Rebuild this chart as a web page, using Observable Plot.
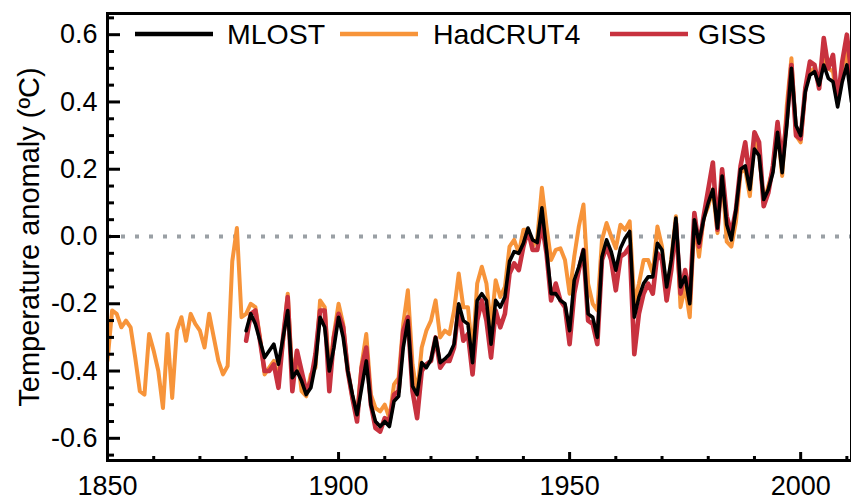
<!DOCTYPE html>
<html><head><meta charset="utf-8">
<script src="https://cdn.jsdelivr.net/npm/d3@7"></script>
<script src="https://cdn.jsdelivr.net/npm/@observablehq/plot@0.6"></script>
<style>
body{margin:0;background:#fff;}
#wrap{position:relative;width:851px;height:502px;overflow:hidden;font-family:"Liberation Sans",Arial,sans-serif;}
#wrap svg{display:block;}
#legend{position:absolute;left:0;top:0;pointer-events:none;}
</style></head><body><div id="wrap"></div>
<script>
// ---- data (annual global temperature anomaly, °C) ----
const hadStart = 1850;
const hadcrut4 = [
-0.37,-0.22,-0.23,-0.27,-0.25,-0.27,-0.36,-0.46,-0.47,-0.29,
-0.34,-0.40,-0.51,-0.29,-0.48,-0.28,-0.24,-0.31,-0.23,-0.26,
-0.28,-0.33,-0.23,-0.30,-0.37,-0.41,-0.385,-0.074,0.025,-0.24,
-0.23,-0.20,-0.21,-0.30,-0.41,-0.39,-0.37,-0.42,-0.31,-0.17,
-0.42,-0.34,-0.46,-0.475,-0.41,-0.39,-0.19,-0.21,-0.40,-0.29,
-0.20,-0.26,-0.40,-0.48,-0.53,-0.38,-0.29,-0.47,-0.51,-0.52,
-0.50,-0.54,-0.44,-0.42,-0.26,-0.16,-0.38,-0.47,-0.33,-0.28,
-0.25,-0.19,-0.30,-0.28,-0.29,-0.22,-0.11,-0.21,-0.21,-0.35,
-0.14,-0.09,-0.14,-0.27,-0.13,-0.18,-0.15,-0.03,-0.01,-0.05,
0.02,0.02,-0.03,-0.005,0.145,0.03,-0.07,-0.04,-0.035,-0.07,
-0.17,-0.06,0.03,0.095,-0.14,-0.20,-0.22,-0.01,0.04,0.0,
-0.035,0.035,0.02,0.045,-0.20,-0.14,-0.07,-0.07,-0.11,0.03,
-0.03,-0.19,-0.065,0.06,-0.21,-0.15,-0.24,0.045,-0.06,0.055,
0.09,0.14,0.01,0.19,-0.015,-0.03,0.045,0.19,0.20,0.12,
0.29,0.25,0.10,0.15,0.20,0.32,0.18,0.39,0.53,0.30,
0.28,0.44,0.49,0.50,0.45,0.54,0.50,0.49,0.40,0.50,
0.55,0.42,0.47
];
const mlostStart = 1880;
const mlost = [
-0.28,-0.23,-0.26,-0.31,-0.36,-0.34,-0.32,-0.38,-0.30,-0.22,
-0.42,-0.40,-0.43,-0.47,-0.45,-0.38,-0.24,-0.27,-0.40,-0.33,
-0.24,-0.30,-0.40,-0.47,-0.53,-0.45,-0.37,-0.50,-0.55,-0.565,
-0.55,-0.565,-0.49,-0.475,-0.33,-0.25,-0.445,-0.47,-0.375,-0.39,
-0.366,-0.30,-0.375,-0.364,-0.35,-0.32,-0.20,-0.25,-0.26,-0.375,
-0.19,-0.17,-0.19,-0.32,-0.19,-0.21,-0.18,-0.074,-0.045,-0.05,
-0.02,0.025,-0.01,-0.018,0.085,-0.04,-0.17,-0.17,-0.19,-0.20,
-0.28,-0.13,-0.09,-0.04,-0.23,-0.24,-0.30,-0.06,-0.01,-0.045,
-0.10,-0.035,-0.005,0.015,-0.24,-0.18,-0.14,-0.12,-0.12,-0.02,
-0.04,-0.15,-0.07,0.055,-0.15,-0.12,-0.20,0.05,-0.02,0.05,
0.10,0.14,0.025,0.18,0.035,-0.01,0.08,0.20,0.21,0.14,
0.26,0.24,0.11,0.14,0.19,0.31,0.19,0.33,0.50,0.33,
0.30,0.43,0.48,0.49,0.45,0.51,0.47,0.46,0.385,0.46,
0.51,0.40,0.43
];
const gissStart = 1880;
const giss = [
-0.31,-0.23,-0.22,-0.31,-0.40,-0.40,-0.38,-0.45,-0.30,-0.18,
-0.46,-0.34,-0.40,-0.46,-0.43,-0.35,-0.22,-0.22,-0.46,-0.30,
-0.23,-0.27,-0.40,-0.48,-0.55,-0.39,-0.33,-0.50,-0.57,-0.58,
-0.54,-0.55,-0.47,-0.46,-0.28,-0.24,-0.46,-0.54,-0.40,-0.38,
-0.37,-0.30,-0.39,-0.37,-0.37,-0.33,-0.21,-0.31,-0.29,-0.41,
-0.25,-0.19,-0.25,-0.36,-0.22,-0.27,-0.23,-0.11,-0.08,-0.10,
-0.03,0.02,-0.04,-0.04,0.04,-0.05,-0.19,-0.14,-0.19,-0.21,
-0.32,-0.17,-0.10,-0.04,-0.25,-0.26,-0.32,-0.07,-0.03,-0.07,
-0.16,-0.06,-0.05,-0.03,-0.35,-0.23,-0.17,-0.14,-0.17,-0.05,
-0.07,-0.19,-0.10,0.04,-0.17,-0.10,-0.19,0.07,-0.03,0.06,
0.14,0.22,0.02,0.20,0.06,0.01,0.08,0.21,0.28,0.17,
0.31,0.28,0.09,0.13,0.21,0.34,0.22,0.35,0.51,0.30,
0.29,0.44,0.52,0.51,0.44,0.59,0.50,0.54,0.40,0.52,
0.60,0.48,0.52
];
const seriesNames = ["MLOST", "HadCRUT4", "GISS"];
const seriesColors = ["#000000", "#f7943a", "#c8323f"];
const xMajorTicks = [1850, 1900, 1950, 2000];
const xMinorTicks = [1860, 1870, 1880, 1890, 1910, 1920, 1930, 1940, 1960, 1970, 1980, 1990, 2010];
const yMajorTicks = [-0.6, -0.4, -0.2, 0.0, 0.2, 0.4, 0.6];
const yMinorTicks = [-0.65,-0.55,-0.5,-0.45,-0.35,-0.3,-0.25,-0.15,-0.1,-0.05,0.05,0.1,0.15,0.25,0.3,0.35,0.45,0.5,0.55,0.65];
const yTitle = "Temperature anomaly (ºC)";

// ---- build tables ----
const toRows = (arr, start, name) => arr.map((v, i) => ({year: start + i, value: v, series: name}));
const hadRows = toRows(hadcrut4, hadStart, "HadCRUT4");
const mlostRows = toRows(mlost, mlostStart, "MLOST");
const gissRows = toRows(giss, gissStart, "GISS");
const color = Object.fromEntries(seriesNames.map((n, i) => [n, seriesColors[i]]));

const chart = Plot.plot({
  width: 851, height: 502,
  marginLeft: 107, marginTop: 13, marginBottom: 42, marginRight: 0,
  style: {fontFamily: '"Liberation Sans", Arial, sans-serif', fontSize: "27px", color: "#000", background: "#fff", overflow: "hidden"},
  x: {domain: [1850, 2011], label: null},
  y: {domain: [-0.666, 0.663], label: null},
  marks: [
    Plot.ruleY([0], {stroke: "#9aa0a5", strokeWidth: 4, strokeDasharray: "4,10"}),
    Plot.line(hadRows, {x: "year", y: "value", stroke: color["HadCRUT4"], strokeWidth: 4, clip: true}),
    Plot.line(gissRows, {x: "year", y: "value", stroke: color["GISS"], strokeWidth: 4.6, clip: true}),
    Plot.line(mlostRows, {x: "year", y: "value", stroke: color["MLOST"], strokeWidth: 3.6, clip: true}),
    Plot.axisY(yMinorTicks, {tickSize: -7, tickFormat: () => "", strokeWidth: 3, label: null}),
    Plot.axisY(yMajorTicks, {tickSize: -13, tickPadding: 23, tickFormat: d => d.toFixed(1), strokeWidth: 3, label: null}),
    Plot.axisX(xMinorTicks, {tickSize: -4, tickFormat: () => "", strokeWidth: 3, label: null}),
    Plot.axisX(xMajorTicks, {tickSize: -8, tickPadding: 23, tickFormat: d => String(d), strokeWidth: 3, label: null}),
    Plot.frame({stroke: "#000", strokeWidth: 3}),
    Plot.text([yTitle], {frameAnchor: "left", textAnchor: "middle", rotate: -90, dx: -78, fontSize: 29})
  ]
});
const wrap = document.getElementById("wrap");
wrap.appendChild(chart);

// ---- legend (inside plot, top) ----
const legendLayout = [{x1: 135, x2: 213, tx: 227}, {x1: 340, x2: 418, tx: 433}, {x1: 610, x2: 688, tx: 698}];
const leg = d3.create("svg").attr("id", "legend").attr("width", 851).attr("height", 60);
seriesNames.forEach((n, i) => {
  const L = legendLayout[i];
  leg.append("line").attr("x1", L.x1).attr("x2", L.x2).attr("y1", 34).attr("y2", 34)
    .attr("stroke", seriesColors[i]).attr("stroke-width", 4.5);
  leg.append("text").attr("x", L.tx).attr("y", 44).attr("font-size", 28.5)
    .attr("font-family", '"Liberation Sans", Arial, sans-serif').attr("fill", "#000").text(n);
});
wrap.appendChild(leg.node());
</script>
</body></html>
